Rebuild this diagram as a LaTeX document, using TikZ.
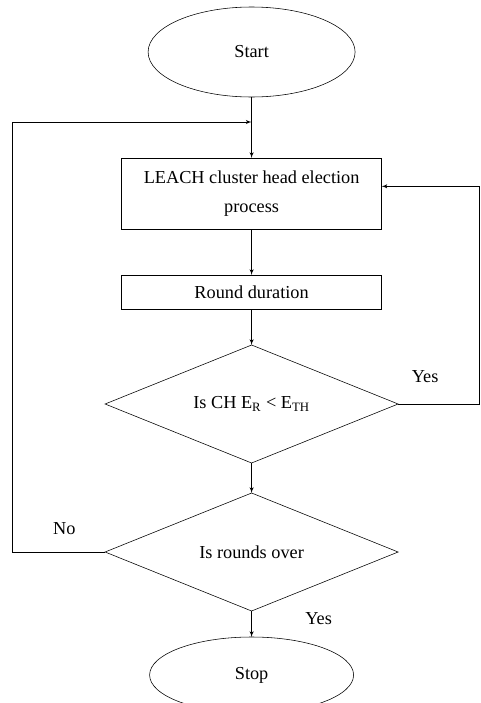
\documentclass[tikz,border=0pt]{standalone}
\usepackage{fontspec}
\setmainfont{Liberation Serif}
\usepackage{tikz}
\usetikzlibrary{shapes,arrows}
\usetikzlibrary{positioning}
\tikzset{auto,>=latex', line width=0.7pt, minimum size=0pt, node distance=1cm, font=\fontsize{13}{21}\selectfont}
\tikzstyle{terminal} = [draw, ellipse, minimum width=5.175cm, minimum height=2.25cm, inner sep=0pt, outer sep=0pt]
\tikzstyle{block} = [draw, rectangle, minimum width=6.5cm, text centered, align=center, outer sep=0pt]
\tikzstyle{decision} = [draw, diamond, aspect=2.5, minimum width=7.325cm, minimum height=2.95cm, inner sep=0pt, outer sep=0pt]
\tikzstyle{txt} = [inner sep=1pt]
\tikzstyle{rail} = [coordinate]

\begin{document}
\begin{tikzpicture}
    \clip (0,0) rectangle (12,-17.575);
    \node [terminal] (start) at (6.29,-1.3) {Start};
    \coordinate [below=0.625cm of start] (join);
    \node [block, minimum height=1.775cm, below=1.525cm of start] (leach) {LEACH cluster head election\\process};
    \node [block, minimum height=0.85cm, below=1.15cm of leach] (round_d) {Round duration};
    \node [decision, below=0.9cm of round_d] (is_ch) {Is CH E\textsubscript{R} < E\textsubscript{TH}};
    \node [decision, below=0.75cm of is_ch] (is_over) {Is rounds over};
    \node [terminal, minimum width=5.1cm, minimum height=1.9cm, below=0.65cm of is_over] (stop) {Stop};
    \node [rail] (rail_l) at (0.3,0) {};
    \node [rail] (rail_r) at (11.98,0) {};
    \node [txt, above right=0.5cm and 0.3cm of is_ch.east] (yes_ch) {Yes};
    \node [txt, above left=0.4cm and 0.7cm of is_over.west] (no_over) {No};
    \node [txt, right=1.3cm of is_over.south, yshift=-0.18cm] (yes_over) {Yes};

    \draw [->] (start) -- (leach);
    \draw [->] (leach) -- (round_d);
    \draw [->] (round_d) -- (is_ch);
    \draw [->] (is_ch) -- (is_over);
    \draw [->] (is_over) -- (stop);
    \draw [->] (is_ch.east) -- (is_ch.east -| rail_r) |- ([yshift=0.18cm]leach.east);
    \draw [->] (is_over.west) -- (is_over.west -| rail_l) |- (join);
\end{tikzpicture}
\end{document}
